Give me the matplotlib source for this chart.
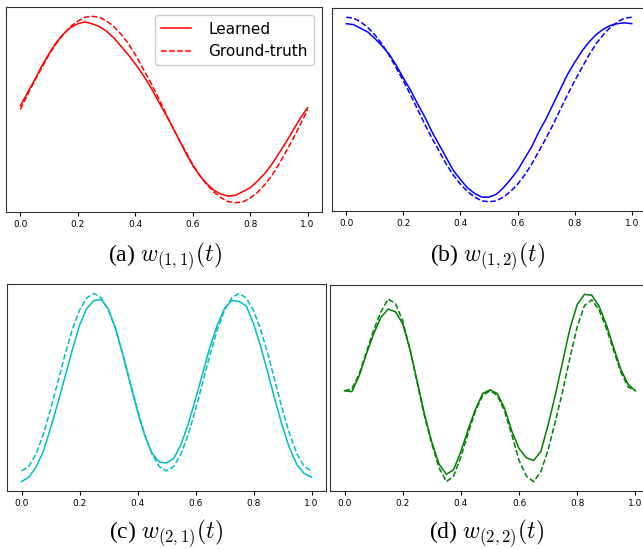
import matplotlib
matplotlib.use("Agg")
import matplotlib.pyplot as plt

plt.rcParams['mathtext.fontset'] = 'cm'

t = [i * 0.025 for i in range(41)]
xticks = [0.0, 0.2, 0.4, 0.6, 0.8, 1.0]
xtick_labels = ["0.0", "0.2", "0.4", "0.6", "0.8", "1.0"]

gt_11 = [0.0, 0.16, 0.31, 0.45, 0.59, 0.71, 0.81, 0.89, 0.95, 0.99, 1.0,
         0.99, 0.95, 0.89, 0.81, 0.71, 0.59, 0.45, 0.31, 0.16, 0.0,
         -0.16, -0.31, -0.45, -0.59, -0.71, -0.81, -0.89, -0.95, -0.99, -1.0,
         -0.99, -0.95, -0.89, -0.81, -0.71, -0.59, -0.45, -0.31, -0.16, 0.0]
learned_11 = [0.04, 0.18, 0.32, 0.47, 0.60, 0.72, 0.81, 0.88, 0.92, 0.94, 0.92,
              0.89, 0.84, 0.77, 0.68, 0.59, 0.49, 0.38, 0.26, 0.12, -0.02,
              -0.16, -0.31, -0.46, -0.60, -0.71, -0.80, -0.87, -0.91, -0.93, -0.92,
              -0.88, -0.84, -0.77, -0.69, -0.59, -0.47, -0.35, -0.22, -0.09, 0.02]

gt_12 = [1.0, 0.99, 0.95, 0.89, 0.81, 0.71, 0.59, 0.45, 0.31, 0.16, 0.0,
         -0.16, -0.31, -0.45, -0.59, -0.71, -0.81, -0.89, -0.95, -0.99, -1.0,
         -0.99, -0.95, -0.89, -0.81, -0.71, -0.59, -0.45, -0.31, -0.16, 0.0,
         0.16, 0.31, 0.45, 0.59, 0.71, 0.81, 0.89, 0.95, 0.99, 1.0]
learned_12 = [0.93, 0.92, 0.88, 0.84, 0.77, 0.69, 0.60, 0.48, 0.34, 0.21, 0.06,
              -0.08, -0.24, -0.38, -0.52, -0.66, -0.76, -0.85, -0.91, -0.95, -0.95,
              -0.92, -0.85, -0.76, -0.66, -0.53, -0.40, -0.24, -0.10, 0.06, 0.22,
              0.38, 0.51, 0.63, 0.73, 0.81, 0.87, 0.91, 0.93, 0.94, 0.93]

gt_21 = [-1.0, -0.95, -0.81, -0.59, -0.31, 0.0, 0.31, 0.59, 0.81, 0.95, 1.0,
         0.95, 0.81, 0.59, 0.31, 0.0, -0.31, -0.59, -0.81, -0.95, -1.0,
         -0.95, -0.81, -0.59, -0.31, 0.0, 0.31, 0.59, 0.81, 0.95, 1.0,
         0.95, 0.81, 0.59, 0.31, 0.0, -0.31, -0.59, -0.81, -0.95, -1.0]
learned_21 = [-1.12, -1.07, -0.96, -0.78, -0.52, -0.24, 0.06, 0.36, 0.64, 0.83, 0.92,
              0.93, 0.82, 0.60, 0.30, -0.02, -0.33, -0.60, -0.80, -0.90, -0.91,
              -0.86, -0.70, -0.47, -0.19, 0.10, 0.40, 0.64, 0.83, 0.92, 0.91,
              0.86, 0.66, 0.40, 0.10, -0.21, -0.50, -0.75, -0.93, -1.03, -1.07]

gt_22 = [0.0, 0.02, 0.18, 0.42, 0.66, 0.86, 1.0, 0.95, 0.76, 0.45, 0.08,
         -0.28, -0.58, -0.84, -0.99, -0.93, -0.72, -0.46, -0.22, -0.05, 0.0,
         -0.05, -0.22, -0.48, -0.76, -0.93, -0.99, -0.88, -0.64, -0.33, 0.0,
         0.36, 0.70, 0.93, 0.99, 0.88, 0.68, 0.44, 0.20, 0.04, 0.0]
learned_22 = [0.0, -0.01, 0.16, 0.40, 0.62, 0.80, 0.89, 0.86, 0.73, 0.45, 0.10,
              -0.26, -0.56, -0.80, -0.91, -0.86, -0.66, -0.42, -0.20, -0.03, 0.01,
              -0.03, -0.19, -0.44, -0.63, -0.73, -0.76, -0.66, -0.37, -0.04, 0.32,
              0.68, 0.94, 1.05, 1.04, 0.92, 0.72, 0.47, 0.23, 0.07, 0.0]

W, H = 643, 549
fig = plt.figure(figsize=(W / 100, H / 100), dpi=100)

def rect(l, r, top, bot):
    return [l / W, 1 - bot / H, (r - l) / W, (bot - top) / H]

panels = [
    (rect(6, 322, 7, 212), learned_11, gt_11, 'red', '(a) $w_{(1,1)}(t)$', (165, 256)),
    (rect(332, 646, 8, 211), learned_12, gt_12, 'blue', '(b) $w_{(1,2)}(t)$', (488, 256)),
    (rect(7, 326, 284, 491), learned_21, gt_21, 'c', '(c) $w_{(2,1)}(t)$', (166, 533)),
    (rect(330, 650, 285, 491), learned_22, gt_22, 'green', '(d) $w_{(2,2)}(t)$', (487, 533)),
]

for i, (pos, lv, gv, col, cap, cxy) in enumerate(panels):
    ax = fig.add_axes(pos)
    ax.plot(t, lv, '-', color=col, lw=1.1, label='Learned')
    ax.plot(t, gv, '--', color=col, lw=1.1, label='Ground-truth')
    ax.set_xticks(xticks)
    ax.set_xticklabels(xtick_labels, fontsize=6.5)
    ax.set_yticks([])
    ax.tick_params(axis='x', length=3, width=0.8, pad=2.5)
    for s in ax.spines.values():
        s.set_linewidth(0.8)
        s.set_color('#333333')
    if i == 0:
        ax.legend(loc='upper right', fontsize=11, handlelength=2.0,
                  handletextpad=1.1, borderaxespad=0.55, framealpha=1.0)
    fig.text(cxy[0] / W, 1 - cxy[1] / H, cap, ha='center', va='center',
             fontsize=17, family='Liberation Serif')

fig.savefig('out.png', dpi=100)
